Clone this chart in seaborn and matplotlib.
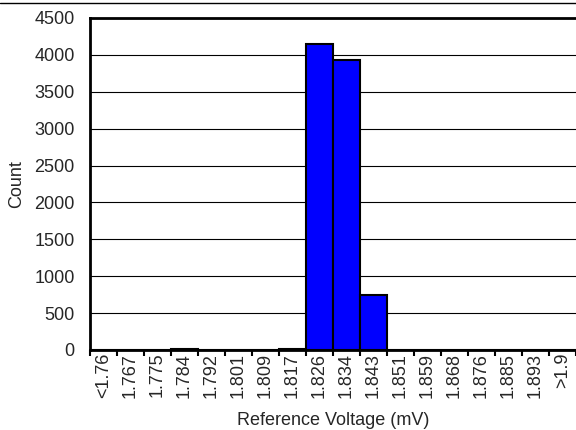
import numpy as np
import pandas as pd
import matplotlib
matplotlib.use('Agg')
import matplotlib.pyplot as plt
from matplotlib.lines import Line2D
import seaborn as sns

# Histogram bins
bins = ['<1.76', '1.767', '1.775', '1.784', '1.792', '1.801', '1.809', '1.817',
        '1.826', '1.834', '1.843', '1.851', '1.859', '1.868', '1.876', '1.885',
        '1.893', '>1.9']
counts = [0, 0, 0, 15, 0, 0, 0, 10, 4150, 3930, 750, 0, 0, 0, 0, 0, 0, 0]
y_ticks = [0, 500, 1000, 1500, 2000, 2500, 3000, 3500, 4000, 4500]

df = pd.DataFrame({'bin': bins, 'count': counts})

sns.set_style('white')
plt.rcParams['font.family'] = ['Liberation Sans', 'DejaVu Sans']

fig = plt.figure(figsize=(5.76, 4.30), dpi=100)
ax = fig.add_axes([90 / 576, 80 / 430, 486 / 576, 332 / 430])

sns.barplot(data=df, x='bin', y='count', ax=ax, color='#0000FF',
            saturation=1, width=1.0, edgecolor='black', linewidth=1.5,
            zorder=3)

ax.set_xlim(-0.5, len(bins) - 0.5)
ax.set_ylim(0, 4500)
ax.set_yticks(y_ticks)
ax.yaxis.grid(True, color='black', linewidth=0.8, zorder=0)
ax.set_axisbelow(True)

# labels centred on bins, tick marks on bin edges
ax.set_xticks(np.arange(len(bins) + 1) - 0.5)
ax.set_xticklabels([])
ax.set_xticks(np.arange(len(bins)), minor=True)
ax.set_xticklabels(bins, minor=True)
ax.tick_params(axis='x', which='major', direction='out', length=4, width=1.5,
               color='black', bottom=True)
ax.tick_params(axis='x', which='minor', length=0, pad=2, labelrotation=90,
               labelsize=13)
ax.tick_params(axis='y', length=0, labelsize=13, pad=11)

for s in ['top', 'left', 'bottom']:
    ax.spines[s].set_visible(True)
    ax.spines[s].set_color('black')
    ax.spines[s].set_linewidth(2)
ax.spines['right'].set_visible(False)

ax.set_xlabel('Reference Voltage (mV)', fontsize=13, labelpad=10)
ax.set_ylabel('Count', fontsize=13, labelpad=7)

# thin rule across the top of the figure
fig.add_artist(Line2D([0, 1], [1 - 3 / 430, 1 - 3 / 430], color='black',
                      linewidth=1, transform=fig.transFigure))

fig.savefig('out.png', dpi=100, facecolor='white')
